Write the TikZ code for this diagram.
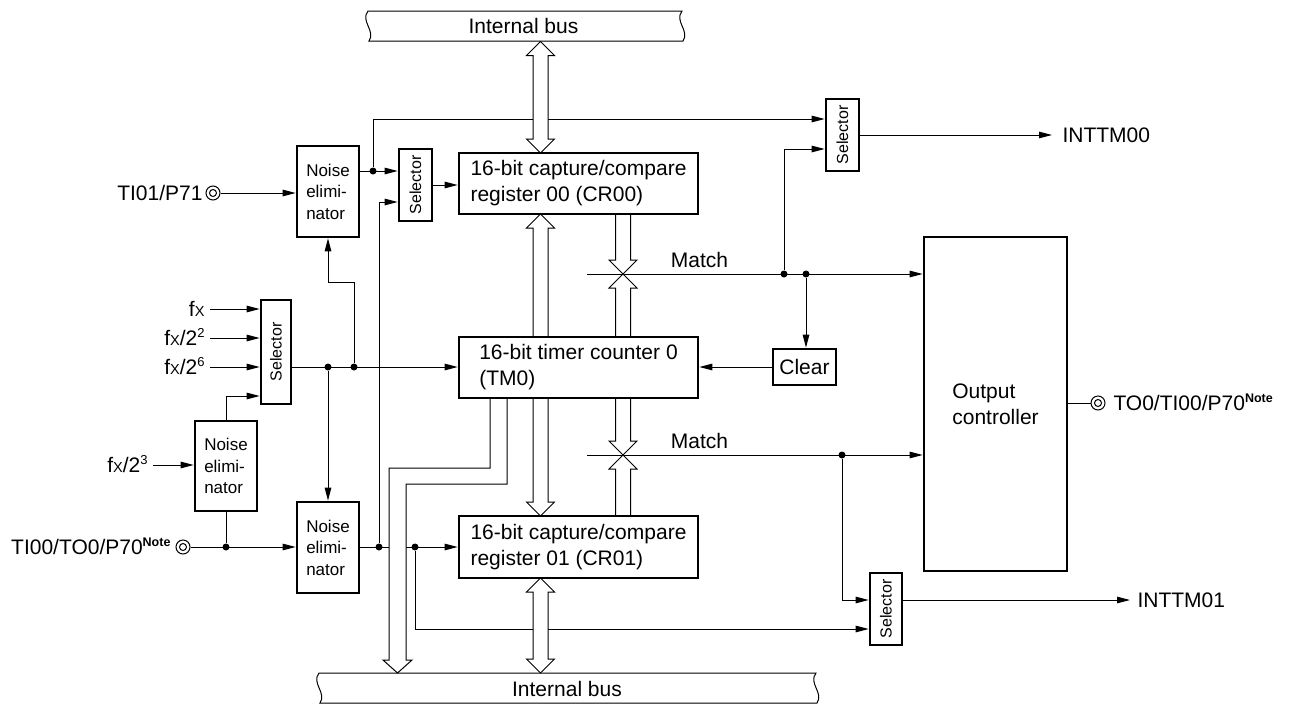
\documentclass[tikz,border=0pt]{standalone}
\usepackage{fontspec}
\usepackage{graphicx}
\setmainfont{Liberation Sans}
\usetikzlibrary{arrows.meta}
\pgfdeclarelayer{bg}
\pgfdeclarelayer{mid}
\pgfsetlayers{bg,mid,main}
\newcommand\notesup{\raisebox{8pt}{\fontsize{12.5}{12.5}\selectfont\bfseries Note}}
\newcommand\supnum[1]{\raisebox{8pt}{\fontsize{13}{13}\selectfont #1}}
\newcommand\fX{f{\fontsize{14.5}{14.5}\selectfont X}}
\newcommand\vdarrow[3]{\draw[fill=white] (#1,#2) -- (#1+14,#2+14) -- (#1+7.5,#2+14) -- (#1+7.5,#3-14) -- (#1+14,#3-14) -- (#1,#3) -- (#1-14,#3-14) -- (#1-7.5,#3-14) -- (#1-7.5,#2+14) -- (#1-14,#2+14) -- cycle;}
\begin{document}
\begin{tikzpicture}[x=1pt,y=-1pt,line width=1pt,
  mainf/.style={font=\fontsize{21}{26}\selectfont},
  blk/.style={draw, line width=2.6pt, fill=white, inner sep=0pt, align=left, mainf},
  neb/.style={draw, line width=2.6pt, fill=white, inner sep=0pt, align=left, minimum width=62pt, minimum height=91pt, font=\fontsize{17}{21.5}\selectfont},
  selbox/.style={draw, line width=2.6pt, fill=white, inner sep=0pt, minimum width=33pt, minimum height=72pt, font=\fontsize{16}{19}\selectfont},
  lbl/.style={inner sep=0pt, mainf},
  jdot/.style={circle, fill=black, inner sep=0pt, minimum size=7pt},
  pinc/.style={circle, draw, fill=white, minimum size=14pt, inner sep=0pt, line width=1pt,
     path picture={\draw[line width=1pt] (path picture bounding box.center) circle (3.5pt);}},
  arr/.style={-{Triangle[length=13pt,width=6.5pt]}},
  wire/.style={line width=1pt, draw=black}
]
\useasboundingbox (0,0) rectangle (1293,707);

% ---------- blocks ----------
\node[neb] (ne1) at (328,191.5) {Noise\\elimi-\\nator};
\node[neb] (ne2) at (328,547.5) {Noise\\elimi-\\nator};
\node[neb, minimum height=90pt] (ne3) at (226,466) {Noise\\elimi-\\nator};
\node[selbox] (sel1) at (415.5,185) {\rotatebox{90}{Selector}};
\node[selbox] (selT) at (842.5,135) {\rotatebox{90}{Selector}};
\node[selbox, minimum width=32pt] (selB) at (886,609) {\rotatebox{90}{Selector}};
\node[selbox, minimum width=30pt, minimum height=104pt] (selC) at (276,352) {\rotatebox{90}{Selector}};
\node[blk, minimum width=239pt, minimum height=61pt] (cr00) at (578.5,183.5) {16-bit capture/compare\\register 00 (CR00)};
\node[blk, minimum width=239pt, minimum height=61pt] (tm0) at (578.5,367.5) {16-bit timer counter 0\\(TM0)};
\node[blk, minimum width=239pt, minimum height=62pt] (cr01) at (578.5,547) {16-bit capture/compare\\register 01 (CR01)};
\node[blk, minimum width=63pt, minimum height=36pt] (clear) at (804.5,367) {Clear};
\node[blk, minimum width=143pt, minimum height=334pt] (oc) at (995.5,404) {Output\\controller};

% ---------- pins ----------
\node[pinc] (ti01) at (213,193) {};
\node[pinc] (ti00) at (183,547) {};
\node[pinc] (to0) at (1098,403) {};

% ---------- labels ----------
\node[lbl, anchor=base east] (ti01l) at (203,200.5) {TI01/P71};
\node[lbl, anchor=base east] (ti00l) at (171,554.5) {TI00/TO0/P70\notesup};
\node[lbl, anchor=base west] (to0l) at (1113,410.5) {TO0/TI00/P70\notesup};
\node[lbl, anchor=base east] (fx1l) at (205,316.5) {\fX};
\node[lbl, anchor=base east] (fx2l) at (205,345.5) {\fX/2\supnum{2}};
\node[lbl, anchor=base east] (fx3l) at (205,374.5) {\fX/2\supnum{6}};
\node[lbl, anchor=base east] (fx4l) at (148,472.5) {\fX/2\supnum{3}};
\node[lbl, anchor=base west] (int0l) at (1062,142.5) {INTTM00};
\node[lbl, anchor=base west] (int1l) at (1137,607.5) {INTTM01};
\node[lbl, anchor=base] (mt1) at (699.5,267) {Match};
\node[lbl, anchor=base] (mt2) at (699.5,448) {Match};
\node[lbl, anchor=base] (busTl) at (523.5,33.5) {Internal bus};
\node[lbl, anchor=base] (busBl) at (567,696) {Internal bus};

% ---------- junctions ----------
\node[jdot] (d1) at (373,171) {};
\node[jdot] (d3) at (379,547) {};
\node[jdot] (d4) at (328,367) {};
\node[jdot] (d5) at (354,367) {};
\node[jdot] (d6) at (226,547) {};
\node[jdot] (d7) at (415,547) {};
\node[jdot] (d8) at (784,274) {};
\node[jdot] (d9) at (806,274) {};
\node[jdot] (d10) at (842,455) {};
\coordinate (m1) at (587,274);
\coordinate (m2) at (587,455);
\coordinate (k1) at (328,282);
\coordinate (f1) at (210,309);
\coordinate (f2) at (210,338);
\coordinate (f3) at (210,367);
\coordinate (f4) at (153,465);
\coordinate (t00) at (1052,135);
\coordinate (t01) at (1130,600);

% ---------- connectors ----------
\begin{pgfonlayer}{bg}
\begin{scope}[line width=1pt]
\draw[wire,arr] (ti01) -- (ti01 -| ne1.west);
\draw[wire,arr] (ne1.east |- d1) -- (d1 -| sel1.west);
\draw[wire,arr] (d1) |- (selT.west |- 0,119);
\draw[wire,arr] (sel1.east) -- (sel1.east -| cr00.west);
\draw[wire,arr] (d3) |- (sel1.west |- 0,202);
\draw[wire,arr] (f1) -- (f1 -| selC.west);
\draw[wire,arr] (f2) -- (f2 -| selC.west);
\draw[wire,arr] (f3) -- (f3 -| selC.west);
\draw[wire,arr] (f4) -- (f4 -| ne3.west);
\draw[wire,arr] (ne3.north) |- (selC.west |- 0,396);
\draw[wire,arr] (selC.east |- d4) -- (d4 -| tm0.west);
\draw[wire,arr] (d5) |- (k1) -- (ne1.south);
\draw[wire,arr] (d4) -- (ne2.north);
\draw[wire,arr] (ti00) -- (ti00 -| ne2.west);
\draw[wire] (d6) -- (ne3.south);
\draw[wire,arr] (ne2.east |- d3) -- (d3 -| cr01.west);
\draw[wire,arr] (d7) |- (selB.west |- 0,629);
\draw[wire,arr] (m1) -- (m1 -| oc.west);
\draw[wire,arr] (d8) |- (selT.west |- 0,149);
\draw[wire,arr] (d9) -- (d9 |- clear.north);
\draw[wire,arr] (clear.west) -- (clear.west -| tm0.east);
\draw[wire,arr] (m2) -- (m2 -| oc.west);
\draw[wire,arr] (d10) |- (selB.west |- 0,600);
\draw[wire,arr] (selT.east) -- (t00);
\draw[wire,arr] (selB.east |- t01) -- (t01);
\draw[wire] (oc.east |- to0) -- (to0);
\end{scope}
\end{pgfonlayer}

% ---------- buses ----------
\begin{pgfonlayer}{mid}
\begin{scope}[line width=1pt, draw=black]
\draw[fill=white] (368,11) -- (682,11) .. controls (674,21) and (690,31) .. (683,41) -- (369,41) .. controls (376,31) and (360,21) .. (368,11) -- cycle;
\draw[fill=white] (319,673) -- (816,673) .. controls (808,683) and (824,693) .. (817,703) -- (320,703) .. controls (327,693) and (311,683) .. (319,673) -- cycle;
\vdarrow{540.5}{41.5}{153}
\vdarrow{540.5}{214}{516}
\vdarrow{540.5}{578}{673}
\vdarrow{623}{274}{455}
\draw[fill=white] (615.5,214) -- (615.5,260) -- (609,260) -- (623,274) -- (637,260) -- (630.5,260) -- (630.5,214);
\draw[fill=white] (615.5,516) -- (615.5,469) -- (609,469) -- (623,455) -- (637,469) -- (630.5,469) -- (630.5,516);
\draw[fill=white] (490,398) -- (490,468) -- (389,468) -- (389,660) -- (383,660) -- (397.5,673) -- (412,660) -- (406,660) -- (406,484) -- (507,484) -- (507,398);
\end{scope}
\end{pgfonlayer}
\end{tikzpicture}
\end{document}
